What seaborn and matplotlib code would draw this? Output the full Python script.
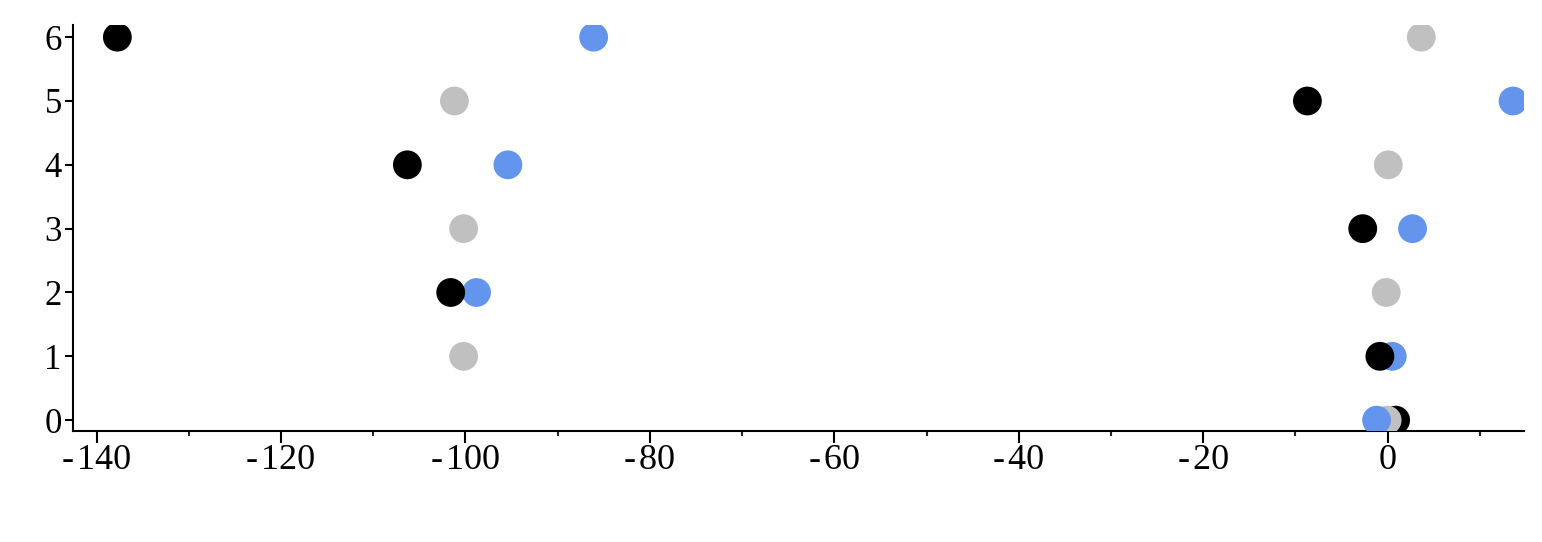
import matplotlib
matplotlib.use("Agg")
import matplotlib.pyplot as plt
from matplotlib.ticker import MultipleLocator, FuncFormatter
import numpy as np
import pandas as pd
import seaborn as sns

# values, one per row (y = 0..6)
rows = [0, 1, 2, 3, 4, 5, 6]
black_vals = [0.87, -0.84, -101.6, -2.7, -106.3, -8.7, -137.75]
blue_vals = [-1.2, 0.5, -98.8, 2.7, -95.4, 13.6, -86.1]
gray_vals = [-0.05, -100.2, -0.15, -100.2, 0.07, -101.2, 3.65]

colors = {"black": "black", "blue": "cornflowerblue", "gray": "silver"}
series = {"black": black_vals, "blue": blue_vals, "gray": gray_vals}

# drawing order matters where dots overlap
recs = []
for i, r in enumerate(rows):
    order = ["black", "gray", "blue"] if r == 0 else ["gray", "blue", "black"]
    for name in order:
        recs.append({"x": series[name][i], "y": r, "grp": name})
df = pd.DataFrame(recs)

sns.set_style("ticks")
plt.rcParams["font.family"] = ["Liberation Serif", "DejaVu Serif"]

fig = plt.figure(figsize=(15.42, 5.42), dpi=100)
ax = fig.add_axes([0.0471, 0.2048, 0.9413, 0.749])

sns.scatterplot(data=df, x="x", y="y", hue="grp", palette=colors,
                s=430, linewidth=0, legend=False, ax=ax, zorder=3,
                alpha=1)

ax.set_xlim(-142.6, 14.8)
ax.set_ylim(-0.17, 6.19)
ax.xaxis.set_major_locator(MultipleLocator(20))
ax.xaxis.set_minor_locator(MultipleLocator(10))
ax.yaxis.set_major_locator(MultipleLocator(1))


def fmt_x(v, pos):
    v = int(round(v))
    return "-\u200a%d" % abs(v) if v < 0 else "%d" % v


ax.xaxis.set_major_formatter(FuncFormatter(fmt_x))
ax.set_xlabel("")
ax.set_ylabel("")

for side in ["top", "right"]:
    ax.spines[side].set_visible(False)
for side in ["left", "bottom"]:
    ax.spines[side].set_linewidth(1.5)
    ax.spines[side].set_color("black")

ax.tick_params(axis="x", which="major", length=8.6, width=1.5, pad=0.5,
               labelsize=26, colors="black")
ax.tick_params(axis="x", which="minor", length=3.8, width=1.5)
ax.tick_params(axis="y", which="major", length=6, width=1.5, pad=1.8,
               labelsize=25, colors="black")

fig.savefig("out.png", dpi=100)
